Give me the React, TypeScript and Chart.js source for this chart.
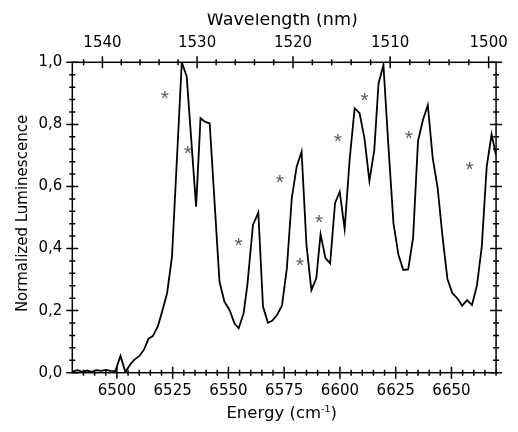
import { useEffect, useRef } from 'react';
import { Chart, registerables } from 'chart.js';

Chart.register(...registerables);

// Emission spectrum (energy in cm^-1, normalized intensity)
const energy = [
  6480.3, 6482.4, 6484.5, 6486.6, 6488.7, 6490.8, 6492.9, 6495.0, 6497.1, 6499.3,
  6501.6, 6503.8, 6506.1, 6508.0, 6510.1, 6512.2, 6514.2, 6516.1, 6518.4, 6520.4,
  6522.5, 6524.7, 6529.1, 6531.3, 6535.5, 6537.5, 6539.4, 6541.6, 6546.0, 6548.2,
  6550.5, 6552.7, 6554.6, 6556.8, 6558.5, 6561.0, 6563.4, 6565.5, 6567.7, 6569.6,
  6571.8, 6574.0, 6576.2, 6578.4, 6580.6, 6582.8, 6585.0, 6587.2, 6589.4, 6591.3,
  6593.5, 6595.6, 6597.8, 6599.9, 6602.1, 6604.4, 6606.6, 6608.8, 6611.0, 6613.2,
  6615.4, 6617.3, 6619.5, 6621.7, 6624.0, 6626.2, 6628.4, 6630.6, 6632.8, 6635.0,
  6637.2, 6639.4, 6641.6, 6643.8, 6646.0, 6648.2, 6650.4, 6652.6, 6654.8, 6657.0,
  6659.2, 6661.4, 6663.6, 6665.8, 6668.0, 6670.0,
];
const intensity = [
  0.004, 0.008, 0.003, 0.007, 0.003, 0.008, 0.006, 0.009, 0.006, 0.005,
  0.054, 0.002, 0.028, 0.043, 0.054, 0.075, 0.110, 0.118, 0.150, 0.200,
  0.256, 0.374, 1.000, 0.954, 0.535, 0.820, 0.809, 0.803, 0.293, 0.229,
  0.202, 0.159, 0.143, 0.191, 0.283, 0.476, 0.516, 0.213, 0.161, 0.167,
  0.186, 0.216, 0.336, 0.562, 0.664, 0.712, 0.411, 0.266, 0.304, 0.446,
  0.369, 0.352, 0.546, 0.583, 0.463, 0.691, 0.852, 0.836, 0.755, 0.618,
  0.717, 0.932, 0.991, 0.734, 0.481, 0.381, 0.331, 0.333, 0.435, 0.746,
  0.814, 0.862, 0.691, 0.596, 0.438, 0.302, 0.256, 0.240, 0.216, 0.234,
  0.218, 0.280, 0.406, 0.664, 0.768, 0.700,
];

// Axis ticks
const energyTicks = [6500, 6525, 6550, 6575, 6600, 6625, 6650];
const wavelengthTicks = [1540, 1530, 1520, 1510, 1500];
const yTicks = [0, 0.2, 0.4, 0.6, 0.8, 1.0];

// Asterisk markers (energy, level)
const starEnergy = [6521.5, 6531.8, 6554.6, 6573.0, 6582.1, 6590.6, 6599.0, 6611.0, 6630.9, 6658.1];
const starLevel = [0.895, 0.717, 0.420, 0.624, 0.356, 0.494, 0.757, 0.887, 0.766, 0.666];

const E_MIN = 6480;
const E_MAX = 6670;
const FONT = 'DejaVu Sans';

const framePlugin = {
  id: 'frame',
  afterDraw(chart: any) {
    const { ctx, chartArea: a, scales } = chart;
    const xs = scales.x;
    const ys = scales.y;
    ctx.save();
    ctx.strokeStyle = '#000';
    ctx.lineWidth = 1.5;
    ctx.strokeRect(a.left, a.top, a.right - a.left, a.bottom - a.top);
    ctx.beginPath();
    const big = 6;
    const small = 3;
    // bottom energy ticks
    for (let v = 6485; v <= E_MAX; v += 5) {
      const px = xs.getPixelForValue(v);
      const l = v % 25 === 0 ? big : small;
      ctx.moveTo(px, a.bottom - l);
      ctx.lineTo(px, a.bottom + l);
    }
    // top wavelength ticks
    for (let w = 1542; w >= 1500; w -= 2) {
      const px = xs.getPixelForValue(1e7 / w);
      if (px < a.left || px > a.right) continue;
      const l = w % 10 === 0 ? big : small;
      ctx.moveTo(px, a.top - l);
      ctx.lineTo(px, a.top + l);
    }
    // y ticks both sides
    for (let i = 0; i <= 25; i++) {
      const v = i * 0.04;
      const py = ys.getPixelForValue(v);
      const l = i % 5 === 0 ? big : small;
      ctx.moveTo(a.left - l, py);
      ctx.lineTo(a.left + l, py);
      ctx.moveTo(a.right - l, py);
      ctx.lineTo(a.right + l, py);
    }
    ctx.stroke();

    // asterisks
    ctx.fillStyle = '#5a5a5a';
    ctx.font = `21px "Liberation Sans"`;
    ctx.textAlign = 'center';
    ctx.textBaseline = 'alphabetic';
    const m = ctx.measureText('*');
    const mid = (m.actualBoundingBoxAscent - m.actualBoundingBoxDescent) / 2;
    starEnergy.forEach((e, i) => {
      const px = xs.getPixelForValue(e);
      const py = ys.getPixelForValue(starLevel[i]);
      ctx.fillText('*', px, py + mid);
    });

    // titles
    ctx.fillStyle = '#000';
    // y title
    ctx.save();
    ctx.font = `15px "${FONT}"`;
    ctx.translate(27.3, (a.top + a.bottom) / 2 - 4);
    ctx.rotate(-Math.PI / 2);
    ctx.textAlign = 'center';
    ctx.fillText('Normalized Luminescence', 0, 0);
    ctx.restore();

    // x title with superscript
    const main = `16.5px "${FONT}"`;
    const sup = `9.5px "${FONT}"`;
    ctx.textAlign = 'left';
    ctx.font = main;
    const w1 = ctx.measureText('Energy (cm').width;
    const w3 = ctx.measureText(')').width;
    ctx.font = sup;
    const w2 = ctx.measureText('-1').width;
    const cx = 281.7;
    const base = 418.3;
    let x0 = cx - (w1 + w2 + w3) / 2;
    ctx.font = main;
    ctx.fillText('Energy (cm', x0, base);
    x0 += w1;
    ctx.font = sup;
    ctx.fillText('-1', x0, base - 6.6);
    x0 += w2;
    ctx.font = main;
    ctx.fillText(')', x0, base);

    // top title (its upper part is cut off, as in the reference)
    ctx.save();
    ctx.beginPath();
    ctx.rect(0, 13.5, chart.width, chart.height);
    ctx.clip();
    ctx.font = `17.5px "${FONT}"`;
    ctx.textAlign = 'center';
    ctx.fillText('Wavelength (nm)', (a.left + a.right) / 2 - 2, 25);
    ctx.restore();
    ctx.restore();
  },
};

export default function App() {
  const ref = useRef<HTMLCanvasElement>(null);
  useEffect(() => {
    const points = energy.map((e, i) => ({ x: e, y: intensity[i] }));
    const tickFont = { family: FONT, size: 15 };
    const chart = new Chart(ref.current!, {
      type: 'line',
      data: {
        datasets: [
          {
            data: points,
            borderColor: '#000',
            borderWidth: 1.8,
            pointRadius: 0,
            tension: 0,
            fill: false,
          },
        ],
      },
      options: {
        animation: false,
        responsive: true,
        maintainAspectRatio: false,
        devicePixelRatio: 1,
        layout: { padding: { right: 16, left: 0, top: 0, bottom: 0 } },
        plugins: { legend: { display: false }, tooltip: { enabled: false } },
        scales: {
          x: {
            type: 'linear',
            position: 'bottom',
            min: E_MIN,
            max: E_MAX,
            grid: { display: false, drawTicks: false },
            border: { display: false },
            afterBuildTicks: (s: any) => {
              s.ticks = energyTicks.map((v) => ({ value: v }));
            },
            afterFit: (s: any) => {
              s.height = 432 - 372.7;
            },
            ticks: {
              autoSkip: false,
              maxRotation: 0,
              padding: 9,
              color: '#000',
              font: tickFont,
              callback: (v: any) => String(v),
            },
          },
          xTop: {
            type: 'linear',
            position: 'top',
            min: E_MIN,
            max: E_MAX,
            grid: { display: false, drawTicks: false },
            border: { display: false },
            afterBuildTicks: (s: any) => {
              s.ticks = wavelengthTicks.map((w) => ({ value: 1e7 / w }));
            },
            afterFit: (s: any) => {
              s.height = 62.3;
            },
            ticks: {
              autoSkip: false,
              maxRotation: 0,
              padding: 10,
              color: '#000',
              font: tickFont,
              callback: (v: any) => String(Math.round(1e7 / Number(v))),
            },
          },
          y: {
            min: 0,
            max: 1,
            grid: { display: false, drawTicks: false },
            border: { display: false },
            afterBuildTicks: (s: any) => {
              s.ticks = yTicks.map((v) => ({ value: v }));
            },
            afterFit: (s: any) => {
              s.width = 72.3;
            },
            ticks: {
              padding: 10,
              color: '#000',
              font: tickFont,
              callback: (v: any) => Number(v).toFixed(1).replace('.', ','),
            },
          },
        },
      },
      plugins: [framePlugin],
    });
    return () => chart.destroy();
  }, []);
  return (
    <div style={{ position: 'fixed', left: 0, top: 0, width: 518, height: 432 }}>
      <canvas ref={ref} />
    </div>
  );
}
